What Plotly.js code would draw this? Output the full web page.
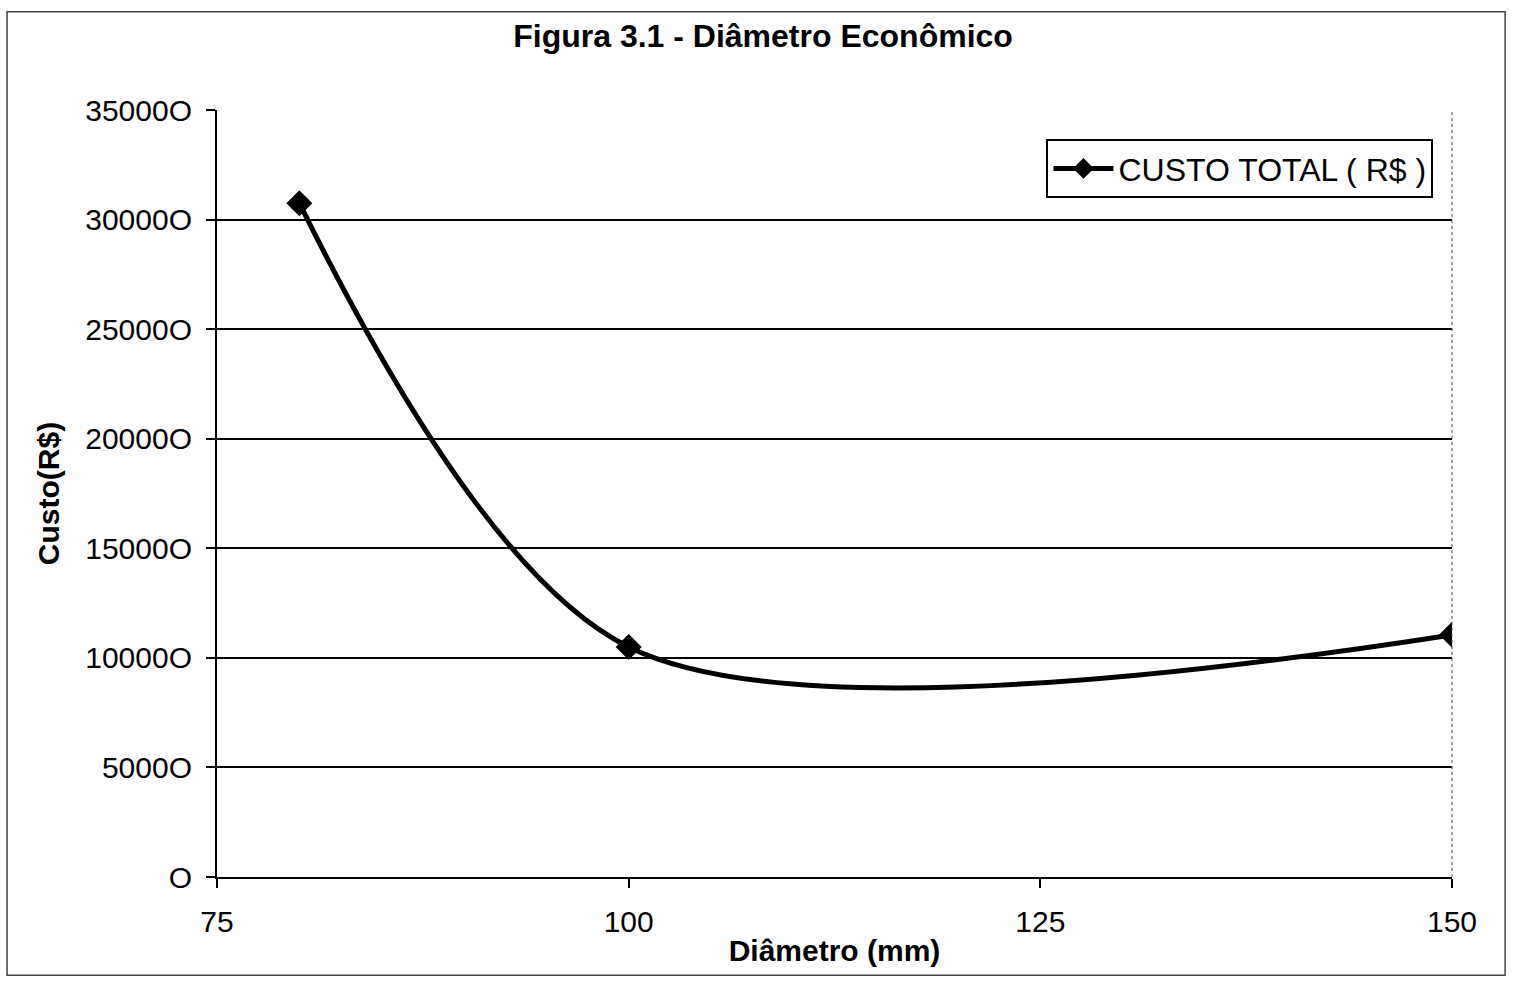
<!DOCTYPE html>
<html>
<head>
<meta charset="utf-8">
<script src="https://cdn.plot.ly/plotly-3.0.1.min.js"></script>
<style>html,body{margin:0;padding:0;background:#fff;}#chart{width:1517px;height:982px;}</style>
</head>
<body>
<div id="chart"></div>
<script>
const diametros = [80, 100, 150];
const custoTotal = [307500, 105000, 110500];
const seriesName = "CUSTO TOTAL ( R$ )";
const xTicks = [75, 100, 125, 150];
const yTicks = [0, 50000, 100000, 150000, 200000, 250000, 300000, 350000];
const yTickLabels = ["O", "5000O", "10000O", "15000O", "20000O", "25000O", "30000O", "35000O"];

const font = "Arial, 'Liberation Sans', sans-serif";

const trace = {
  x: diametros, y: custoTotal, name: seriesName,
  type: "scatter", mode: "lines+markers",
  line: {color: "#000", width: 5, shape: "spline", smoothing: 0.9},
  marker: {symbol: "diamond", size: 20, color: "#000"}
};

const layout = {
  width: 1517, height: 982,
  paper_bgcolor: "#fff", plot_bgcolor: "#fff",
  margin: {l: 217, r: 65, t: 110, b: 105},
  title: {text: "<b>Figura 3.1 - Diâmetro Econômico</b>", x: 0.503, xref: "container", xanchor: "center", y: 0.964, yref: "container", yanchor: "middle", font: {family: font, size: 32, color: "#000"}},
  showlegend: true,
  legend: {x: 0.985, xanchor: "right", y: 0.962, yanchor: "top", bordercolor: "#000", borderwidth: 2, bgcolor: "#fff", itemwidth: 60, font: {family: font, size: 32, color: "#000"}, tracegroupgap: 0},
  xaxis: {
    range: [75, 150], tickvals: xTicks, ticktext: xTicks.map(String),
    ticks: "outside", ticklen: 9, tickwidth: 2, tickcolor: "#000", ticklabelstandoff: 8,
    showline: true, linecolor: "#000", linewidth: 2, showgrid: false, zeroline: false,
    tickfont: {family: font, size: 30, color: "#000"},
    title: {text: "<b>Diâmetro (mm)</b>", font: {family: font, size: 30, color: "#000"}, standoff: 3}
  },
  yaxis: {
    range: [0, 350000], tickvals: yTicks, ticktext: yTickLabels,
    ticks: "outside", ticklen: 9, tickwidth: 2, tickcolor: "#000", ticklabelstandoff: 8,
    showline: true, linecolor: "#000", linewidth: 2,
    showgrid: true, gridcolor: "#000", gridwidth: 2, zeroline: false,
    tickfont: {family: font, size: 30, color: "#000"},
    title: {text: "<b>Custo(R$)</b>", font: {family: font, size: 30, color: "#000"}, standoff: 17}
  },
  shapes: [
    {type: "line", xref: "paper", yref: "paper", x0: 1, x1: 1, y0: 0, y1: 1, line: {color: "#555", width: 1, dash: "dot"}},
    {type: "rect", xref: "paper", yref: "paper", x0: -0.17, x1: 1.043, y0: -0.128, y1: 1.128, line: {color: "#444", width: 1.5}}
  ]
};

Plotly.newPlot("chart", [trace], layout, {displayModeBar: false});
</script>
</body>
</html>
